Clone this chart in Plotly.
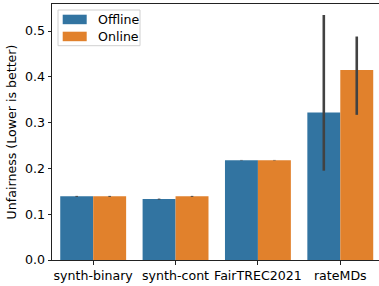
import plotly.graph_objects as go

categories = ["synth-binary", "synth-cont", "FairTREC2021", "rateMDs"]
series_names = ["Offline", "Online"]
offline = [0.139, 0.133, 0.218, 0.322]
offline_lo = [0.138, 0.132, 0.2175, 0.195]
offline_hi = [0.140, 0.134, 0.2185, 0.535]
online = [0.139, 0.139, 0.218, 0.415]
online_lo = [0.138, 0.138, 0.2175, 0.317]
online_hi = [0.140, 0.140, 0.2185, 0.488]

W, H = 379, 286
ml, mr, mt, mb = 52, 0, 4, 26
PW, PH = W - ml - mr, H - mt - mb
FS = 12.6
colors = {"Offline": "#3274a1", "Online": "#e1812c"}


def px_x(p):
    return (p - ml) / PW


def px_y(p):
    return (H - mb - p) / PH


fig = go.Figure()
for name, vals, lo, hi in [
    ("Offline", offline, offline_lo, offline_hi),
    ("Online", online, online_lo, online_hi),
]:
    fig.add_trace(go.Bar(
        x=list(range(len(categories))), y=vals, name=name, showlegend=False,
        marker=dict(color=colors[name], line=dict(width=0)),
        error_y=dict(type="data", symmetric=False,
                     array=[h - v for h, v in zip(hi, vals)],
                     arrayminus=[v - l for v, l in zip(vals, lo)],
                     color="#424242", thickness=2.6, width=0),
    ))

# manual legend (matplotlib style)
shapes = [dict(type="rect", xref="paper", yref="paper",
               x0=px_x(58), x1=px_x(140), y0=px_y(45.7), y1=px_y(10),
               line=dict(color="#d0d0d0", width=1), fillcolor="rgba(255,255,255,0.8)",
               layer="above")]
annotations = []
for i, name in enumerate(series_names):
    top = 14.7 + i * 17
    shapes.append(dict(type="rect", xref="paper", yref="paper",
                       x0=px_x(62.7), x1=px_x(86.7), y0=px_y(top + 9.5), y1=px_y(top),
                       line=dict(width=0), fillcolor=colors[name], layer="above"))
    annotations.append(dict(text=name, xref="paper", yref="paper",
                            x=px_x(95.5), y=px_y(top + 4.9), xanchor="left", yanchor="middle",
                            showarrow=False, font=dict(size=FS, color="black")))

fig.update_layout(
    width=W, height=H,
    margin=dict(l=ml, r=mr, t=mt, b=mb),
    plot_bgcolor="white", paper_bgcolor="white",
    barmode="group", bargap=0.2, bargroupgap=0,
    font=dict(family="DejaVu Sans", size=FS, color="black"),
    showlegend=False,
    shapes=shapes, annotations=annotations,
)
fig.update_xaxes(
    tickmode="array", tickvals=list(range(len(categories))), ticktext=categories,
    range=[-0.5, 3.47], showline=True, linecolor="#222222", linewidth=1, mirror=True,
    ticks="outside", ticklen=3.5, tickcolor="#222222", showgrid=False, zeroline=False,
)
fig.update_yaxes(
    range=[0, 0.559], tickmode="array", tickvals=[0, 0.1, 0.2, 0.3, 0.4, 0.5],
    ticktext=["0.0", "0.1", "0.2", "0.3", "0.4", "0.5"],
    showline=True, linecolor="#222222", linewidth=1, mirror=True,
    ticks="outside", ticklen=3.5, tickcolor="#222222", showgrid=False, zeroline=False,
    title=dict(text="Unfairness (Lower is better)", standoff=5, font=dict(size=FS)),
)
fig.write_html("out.html", config={"displayModeBar": False, "staticPlot": True},
               post_script="document.body.style.margin='0';document.body.style.overflow='hidden';")
